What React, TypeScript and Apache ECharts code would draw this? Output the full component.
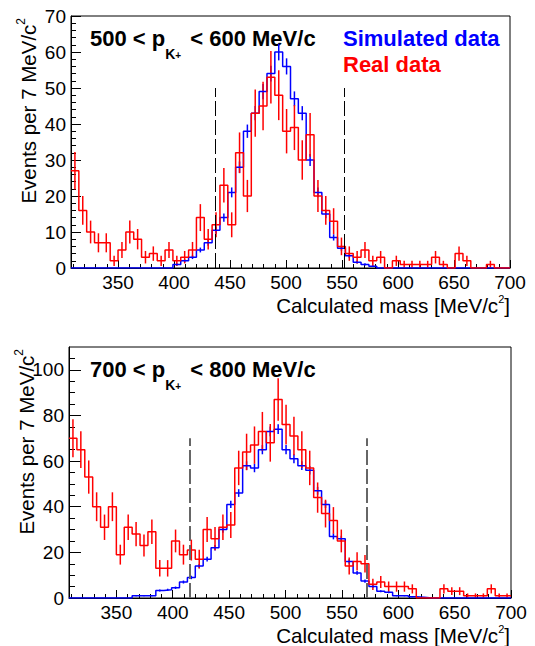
import React, { useEffect, useRef } from "react";
import * as echarts from "echarts";

// Histogram binning (7 MeV/c^2 bins)
const BIN_LO = 308;
const BIN_HI = 700;
const BIN_W = 7;

// Panel 1: 500 < p < 600 MeV/c
const topSim = [0, 0, 0, 0, 0, 0, 0, 0, 0, 0, 0, 0, 0, 1, 2, 3, 5, 7, 10.5, 14, 21, 28, 38, 43, 49, 54, 60, 56, 47, 43, 30, 21, 15, 8.5, 5.5, 3.4, 1.6, 1, 0.5, 0, 0, 0, 0, 0, 0, 0, 0, 0, 0, 0, 0, 0, 0, 0, 0, 0];
const topReal = [27, 16, 10, 7, 7, 2, 5, 10, 8, 3, 4, 2, 5, 2, 3, 5, 14, 8, 12, 23, 12, 32, 20, 43, 45, 53, 48, 38, 39, 30, 37, 20, 16, 13, 6, 4, 3, 5, 2, 3, 0, 2, 1, 1, 1, 1, 3, 1, 0, 4, 2, 0, 0, 1, 0, 0];
// Panel 2: 700 < p < 800 MeV/c
const botSim = [0, 0, 0, 0, 0, 0, 0, 0, 1, 1, 1, 3.3, 3.6, 4.5, 7, 9, 14, 17, 22, 30, 41, 46, 58, 57, 65, 73, 74, 65, 61, 58, 56, 47, 41, 27, 26, 16, 11, 7.4, 5, 3, 2.5, 1, 1, 0.5, 0.3, 0, 0, 0, 0, 0, 0, 0, 0, 0, 0, 0];
const botReal = [70, 65, 53, 40, 31, 40, 19, 31, 28, 23, 29, 13, 13, 25, 19, 21, 17, 30, 26, 31, 32, 57, 64, 67, 73, 68, 87, 76, 71, 65, 57, 44, 37, 34, 25, 14, 16, 15, 6, 7, 5, 5, 5, 4, 0, 0, 0, 4, 3, 3, 1, 1, 1, 4, 1, 1];

// Selection cuts (dashed lines)
const topCuts = [436.6, 551.7];
const botCuts = [415.3, 572];
const topCutHeight = 50;
const botCutHeight = 70;

// Tick values
const xMajor = [350, 400, 450, 500, 550, 600, 650, 700];
const xMinor = [310, 320, 330, 340, 360, 370, 380, 390, 410, 420, 430, 440, 460, 470, 480, 490, 510, 520, 530, 540, 560, 570, 580, 590, 610, 620, 630, 640, 660, 670, 680, 690];
const topYMajor = [0, 10, 20, 30, 40, 50, 60, 70];
const topYMinor = [2, 4, 6, 8, 12, 14, 16, 18, 22, 24, 26, 28, 32, 34, 36, 38, 42, 44, 46, 48, 52, 54, 56, 58, 62, 64, 66, 68];
const botYMajor = [0, 20, 40, 60, 80, 100];
const botYMinor = [5, 10, 15, 25, 30, 35, 45, 50, 55, 65, 70, 75, 85, 90, 95, 105];

const BLUE = "#0000ff";
const RED = "#ff0000";
const FONT = "'Liberation Sans', Arial, Helvetica, sans-serif";

function stepData(values: number[]) {
  const out: number[][] = [];
  for (let i = 0; i <= values.length; i++) {
    out.push([BIN_LO + i * BIN_W, values[Math.min(i, values.length - 1)]]);
  }
  return out;
}

function errData(values: number[], scale: number) {
  return values
    .map((v, i) => [BIN_LO + (i + 0.5) * BIN_W, v, scale * Math.sqrt(v)])
    .filter((d) => d[1] > 0);
}

function errSeries(values: number[], scale: number, color: string, idx: number) {
  return {
    type: "custom",
    xAxisIndex: idx,
    yAxisIndex: idx,
    data: errData(values, scale),
    encode: { x: 0, y: 1 },
    silent: true,
    renderItem: (params: any, api: any) => {
      const x = api.value(0);
      const y = api.value(1);
      const e = api.value(2);
      const p1 = api.coord([x, Math.max(0, y - e)]);
      const p2 = api.coord([x, y + e]);
      return {
        type: "line",
        shape: { x1: p1[0], y1: p1[1], x2: p2[0], y2: p2[1] },
        style: { stroke: color, lineWidth: 1.5 },
      };
    },
  };
}

function histSeries(values: number[], color: string, idx: number, cuts?: number[], cutH?: number, cutColor?: string, cutW?: number) {
  const s: any = {
    type: "line",
    xAxisIndex: idx,
    yAxisIndex: idx,
    data: stepData(values),
    step: "end",
    symbol: "none",
    showSymbol: false,
    silent: true,
    lineStyle: { color, width: 1.5 },
  };
  if (cuts) {
    s.markLine = {
      silent: true,
      symbol: ["none", "none"],
      label: { show: false },
      lineStyle: { type: [15, 4], color: cutColor, width: cutW },
      emphasis: { disabled: true },
      data: cuts.map((c) => [{ coord: [c, 0] }, { coord: [c, cutH] }]),
    };
  }
  return s;
}

function xAxes(gridIndex: number) {
  return [
    {
      gridIndex,
      type: "value",
      min: BIN_LO,
      max: BIN_HI,
      position: "bottom",
      axisLine: { show: true, lineStyle: { color: "#000", width: 1 } },
      axisTick: { show: true, inside: true, length: 8, customValues: xMajor, lineStyle: { color: "#000" } },
      axisLabel: { show: true, customValues: xMajor, color: "#000", fontSize: 19, fontFamily: FONT, margin: 5 },
      splitLine: { show: false },
    },
    {
      gridIndex,
      type: "value",
      min: BIN_LO,
      max: BIN_HI,
      position: "bottom",
      axisLine: { show: false },
      axisTick: { show: true, inside: true, length: 4, customValues: xMinor, lineStyle: { color: "#000" } },
      axisLabel: { show: false },
      splitLine: { show: false },
    },
  ];
}

function yAxes(gridIndex: number, max: number, major: number[], minor: number[], majLen: number, minLen: number) {
  return [
    {
      gridIndex,
      type: "value",
      min: 0,
      max,
      position: "left",
      axisLine: { show: true, lineStyle: { color: "#000", width: 1 } },
      axisTick: { show: true, inside: true, length: majLen, customValues: major, lineStyle: { color: "#000" } },
      axisLabel: { show: true, customValues: major, color: "#000", fontSize: 19, fontFamily: FONT, margin: 5 },
      splitLine: { show: false },
    },
    {
      gridIndex,
      type: "value",
      min: 0,
      max,
      position: "left",
      axisLine: { show: false },
      axisTick: { show: true, inside: true, length: minLen, customValues: minor, lineStyle: { color: "#000" } },
      axisLabel: { show: false },
      splitLine: { show: false },
    },
  ];
}

function richText(text: string, x: number, y: number, rich: any, opts: any = {}) {
  const align = opts.align || "left";
  return {
    type: "text",
    x,
    y,
    rotation: opts.rotation || 0,
    silent: true,
    style: {
      text,
      rich,
      fill: "#000",
      font: `20px ${FONT}`,
      textAlign: align,
      align,
      textVerticalAlign: "middle",
      verticalAlign: "middle",
    },
  };
}

function txt(text: string, x: number, y: number, size: number, fill: string) {
  return {
    type: "text",
    x,
    y,
    silent: true,
    style: {
      text,
      fill,
      font: `bold ${size}px ${FONT}`,
      textAlign: "left",
      align: "left",
      textVerticalAlign: "middle",
      verticalAlign: "middle",
    },
  };
}

const titleRich = {
  m: { fontSize: 22, fontWeight: "bold", fontFamily: FONT, color: "#000", lineHeight: 45, verticalAlign: "middle" },
  k: { fontSize: 14, fontWeight: "bold", fontFamily: FONT, color: "#000", lineHeight: 14, verticalAlign: "bottom" },
  p: { fontSize: 10, fontWeight: "bold", fontFamily: FONT, color: "#000", lineHeight: 36, verticalAlign: "bottom", padding: [0, 3, 0, 0] },
};
const yTitleRich = {
  a: { fontSize: 20.5, fontFamily: FONT, color: "#000", lineHeight: 26, verticalAlign: "middle" },
  s: { fontSize: 12, fontFamily: FONT, color: "#000", lineHeight: 12, verticalAlign: "top" },
};
const xTitleRich = {
  a: { fontSize: 20.6, fontFamily: FONT, color: "#000", lineHeight: 24, verticalAlign: "middle" },
  s: { fontSize: 11, fontFamily: FONT, color: "#000", lineHeight: 11, verticalAlign: "top" },
};

function panelTexts(dy: number, lo: string, hi: string, yTitleX: number, xTitleY: number) {
  return [
    richText(`{m|${lo} < p}{k|K}{p|+}{m| < ${hi} MeV/c}`, 90, 38 + dy, titleRich),
    richText("{a|Events per 7 MeV/c}{s|2}", yTitleX, 18 + dy, yTitleRich, { rotation: Math.PI / 2, align: "right" }),
    richText("{a|Calculated mass [MeV/c}{s|2}{a|]}", 510, xTitleY, xTitleRich, { align: "right" }),
  ];
}

export default function App() {
  const ref = useRef<HTMLDivElement>(null);
  useEffect(() => {
    if (!ref.current) return;
    const chart = echarts.init(ref.current, undefined, { renderer: "svg" });
    const option: any = {
      animation: false,
      backgroundColor: "#fff",
      grid: [
        { left: 71, top: 16, width: 439, height: 252, show: true, borderColor: "#000", borderWidth: 1, backgroundColor: "transparent" },
        { left: 69, top: 347, width: 442, height: 251, show: true, borderColor: "#000", borderWidth: 1, backgroundColor: "transparent" },
      ],
      xAxis: [...xAxes(0), ...xAxes(1)],
      yAxis: [
        ...yAxes(0, 70, topYMajor, topYMinor, 10, 5),
        ...yAxes(1, 110, botYMajor, botYMinor, 12, 6),
      ],
      series: [
        histSeries(topSim, BLUE, 0, topCuts, topCutHeight, "#000", 1),
        errSeries(topSim, 0.3, BLUE, 0),
        histSeries(topReal, RED, 0),
        errSeries(topReal, 1, RED, 0),
        histSeries(botSim, BLUE, 2, botCuts, botCutHeight, "#666", 2),
        errSeries(botSim, 0.25, BLUE, 2),
        histSeries(botReal, RED, 2),
        errSeries(botReal, 1, RED, 2),
      ],
      graphic: [
        ...panelTexts(0, "500", "600", 28, 305),
        txt("Simulated data", 343, 38, 22, BLUE),
        txt("Real data", 343, 64, 22, RED),
        ...panelTexts(331, "700", "800", 26, 635),
      ],
    };
    chart.setOption(option);
    return () => chart.dispose();
  }, []);
  return <div ref={ref} style={{ position: "fixed", left: 0, top: 0, width: 535, height: 646 }} />;
}
